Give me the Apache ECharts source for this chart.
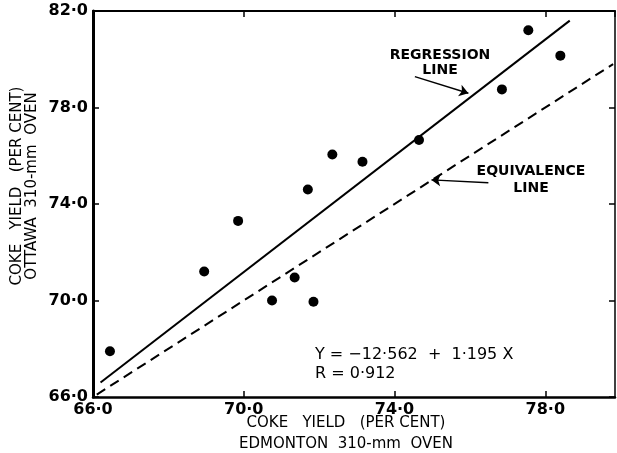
<!DOCTYPE html>
<html>
<head>
<meta charset="utf-8">
<script src="https://cdn.jsdelivr.net/npm/echarts@6/dist/echarts.min.js"></script>
<style>
  html, body { margin: 0; padding: 0; background: #fff; }
  #chart { width: 617px; height: 453px; }
</style>
</head>
<body>
<div id="chart"></div>
<script>
// coke yield (per cent), Edmonton oven vs Ottawa oven
const edmontonYield = [66.45, 68.95, 69.85, 70.75, 71.35, 71.85, 71.7, 72.35, 73.15, 74.65, 76.85, 77.55, 78.4];
const ottawaYield   = [67.9, 71.2, 73.3, 70.0, 70.95, 69.95, 74.6, 76.05, 75.75, 76.65, 78.75, 81.2, 80.15];

// line ends
const regressionLine = [[66.2, 66.6], [78.65, 81.6]];
const equivalenceLine = [[66.1, 66.1], [79.8, 79.8]];

// arrows pointing at the two lines
const regressionArrow = [[74.54, 79.28], [75.96, 78.59]];
const equivalenceArrow = [[76.49, 74.88], [74.98, 75.0]];

const FONT = "DejaVu Sans";
const fmt = (v) => v.toFixed(1).replace(".", "\u00b7");

const chart = echarts.init(document.getElementById("chart"));

const axisCommon = {
  type: "value",
  interval: 4,
  splitLine: { show: false },
  axisTick: { show: true, inside: true, length: 6, lineStyle: { color: "#000", width: 1.5 } },
};

const arrow = (pts) => ({
  silent: true,
  animation: false,
  symbol: ["none", "arrow"],
  symbolSize: 9,
  label: { show: false },
  emphasis: { disabled: true },
  itemStyle: { color: "#000" },
  lineStyle: { color: "#000", width: 1.5, type: "solid" },
  data: [[{ coord: pts[0] }, { coord: pts[1] }]],
});

const option = {
  animation: false,
  backgroundColor: "#fff",
  grid: { left: 93, top: 11, width: 522, height: 386 },
  xAxis: [
    {
      ...axisCommon,
      min: 66,
      max: 79.85,
      position: "bottom",
      axisLine: { lineStyle: { color: "#000", width: 2.5 } },
      axisLabel: {
        color: "#000",
        fontFamily: FONT,
        fontSize: 16,
        fontWeight: "bold",
        margin: 5,
        showMaxLabel: false,
        formatter: fmt,
      },
    },
    {
      ...axisCommon,
      min: 66,
      max: 79.85,
      position: "top",
      axisLine: { lineStyle: { color: "#000", width: 2 } },
      axisLabel: { show: false },
    },
  ],
  yAxis: [
    {
      ...axisCommon,
      min: 66,
      max: 82,
      position: "left",
      axisLine: { lineStyle: { color: "#000", width: 3 } },
      axisLabel: {
        color: "#000",
        fontFamily: FONT,
        fontSize: 16,
        fontWeight: "bold",
        margin: 5,
        formatter: fmt,
      },
    },
    {
      ...axisCommon,
      min: 66,
      max: 82,
      position: "right",
      axisLine: { lineStyle: { color: "#000", width: 1.5 } },
      axisLabel: { show: false },
    },
  ],
  series: [
    {
      name: "Samples",
      type: "scatter",
      symbol: "circle",
      symbolSize: 10,
      itemStyle: { color: "#000", opacity: 1 },
      data: edmontonYield.map((x, i) => [x, ottawaYield[i]]),
    },
    {
      name: "Regression line",
      type: "line",
      symbol: "none",
      lineStyle: { color: "#000", width: 2 },
      data: regressionLine,
      markLine: arrow(regressionArrow),
    },
    {
      name: "Equivalence line",
      type: "line",
      symbol: "none",
      lineStyle: { color: "#000", width: 2, type: [10, 6] },
      data: equivalenceLine,
      markLine: arrow(equivalenceArrow),
    },
  ],
  graphic: [
    {
      type: "text",
      x: 440,
      y: 63,
      style: {
        text: "REGRESSION\nLINE",
        font: "bold 14px " + FONT,
        fill: "#000",
        align: "center",
        verticalAlign: "middle",
        lineHeight: 15,
      },
    },
    {
      type: "text",
      x: 531,
      y: 180,
      style: {
        text: "EQUIVALENCE\nLINE",
        font: "bold 14px " + FONT,
        fill: "#000",
        align: "center",
        verticalAlign: "middle",
        lineHeight: 17,
      },
    },
    {
      type: "text",
      x: 315,
      y: 364.5,
      style: {
        text: "Y = \u221212\u00b7562  +  1\u00b7195 X\nR = 0\u00b7912",
        font: "16px " + FONT,
        fill: "#000",
        align: "left",
        verticalAlign: "middle",
        lineHeight: 19,
      },
    },
    {
      type: "text",
      x: 346,
      y: 434,
      style: {
        text: "COKE   YIELD   (PER CENT)\nEDMONTON  310-mm  OVEN",
        font: "15px " + FONT,
        fill: "#000",
        align: "center",
        verticalAlign: "middle",
        lineHeight: 21,
      },
    },
    {
      type: "text",
      x: 25,
      y: 186,
      rotation: Math.PI / 2,
      style: {
        text: "COKE   YIELD   (PER CENT)\nOTTAWA  310-mm  OVEN",
        font: "15px " + FONT,
        fill: "#000",
        align: "center",
        verticalAlign: "middle",
        lineHeight: 15,
      },
    },
  ],
};

chart.setOption(option);
</script>
</body>
</html>
